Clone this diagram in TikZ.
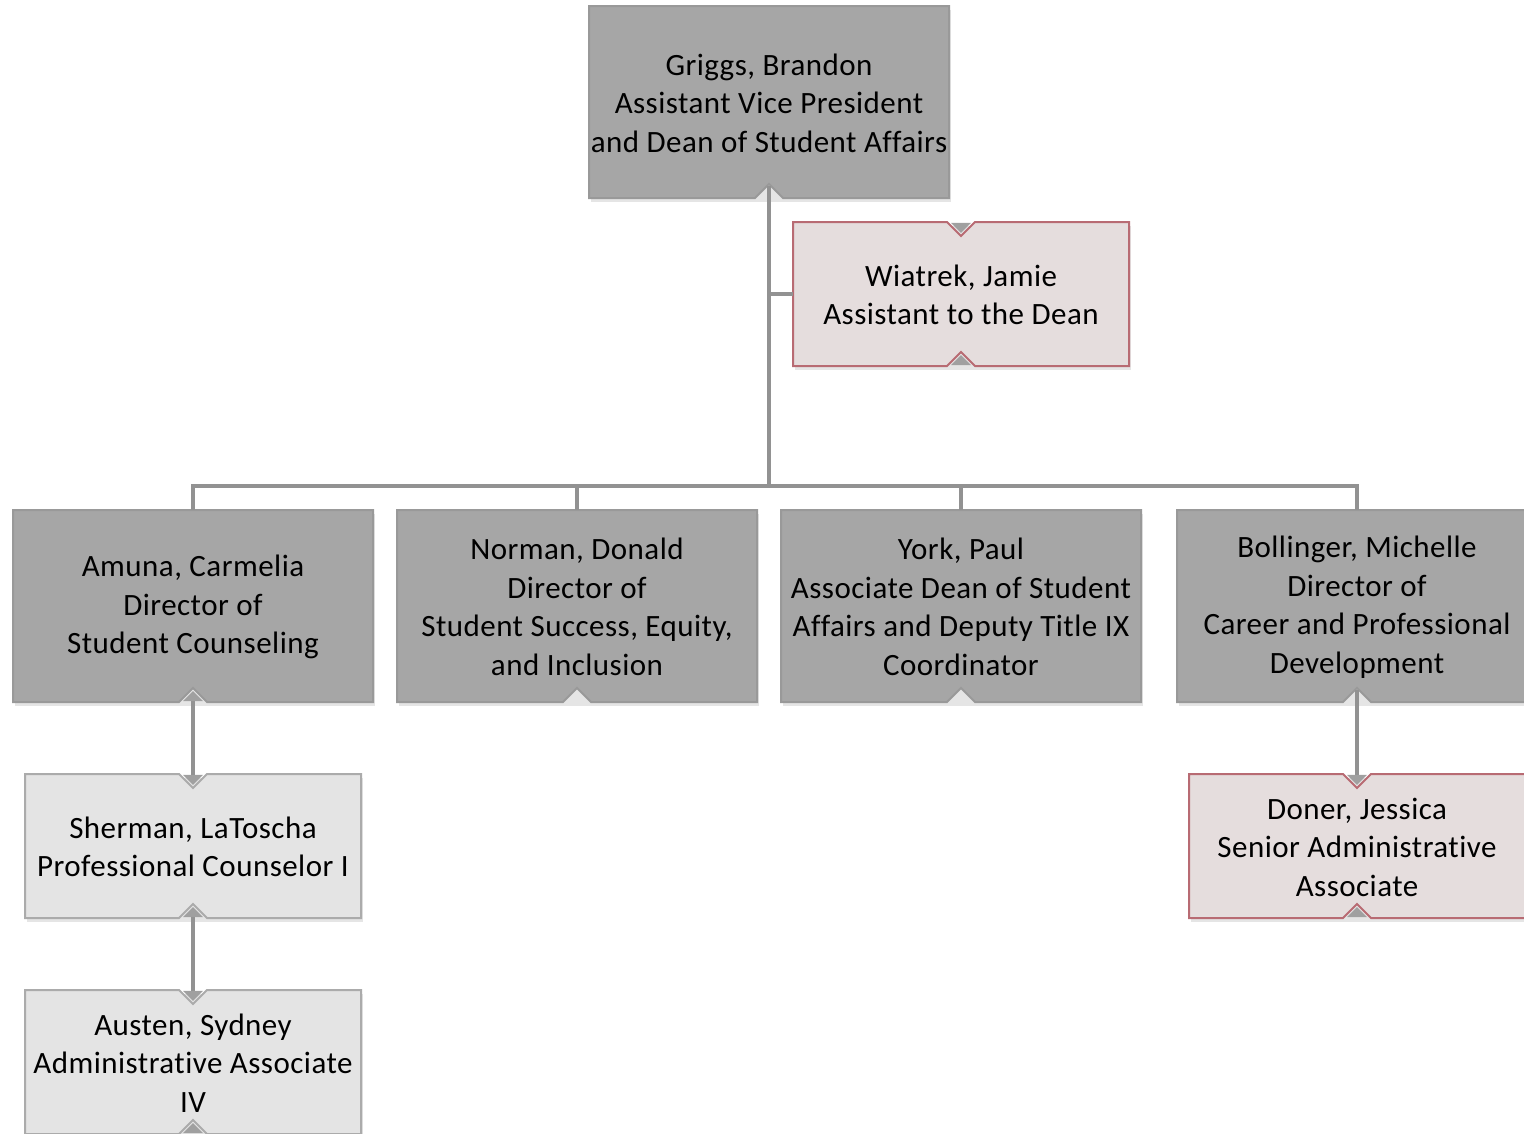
\documentclass[tikz,border=0pt]{standalone}
\usepackage{fontspec}
\setmainfont{Carlito}[LetterSpace=1.5,Ligatures={NoCommon}]
\usetikzlibrary{calc}
\definecolor{darkfill}{HTML}{A6A6A6}
\definecolor{darkline}{HTML}{999999}
\definecolor{pinkfill}{HTML}{E5DDDD}
\definecolor{pinkline}{HTML}{B86B73}
\definecolor{lightfill}{HTML}{E4E4E4}
\definecolor{lightline}{HTML}{ABABAB}
\definecolor{connc}{HTML}{929292}
\definecolor{tipc}{HTML}{A0A0A0}
\tikzset{
  darkbox/.style={fill=darkfill, draw=darkline, line width=2pt},
  pinkbox/.style={fill=pinkfill, draw=pinkline, line width=2pt},
  lightbox/.style={fill=lightfill, draw=lightline, line width=2pt},
  conn/.style={draw=connc, line width=4pt},
  tipfill/.style={fill=tipc},
  boxshadow/.style={fill=black, opacity=0.10},
  boxtext/.style={inner sep=0pt, align=center, font=\fontsize{31}{38.5}\selectfont, text=black},
}
% #1 name, #2 left, #3 top, #4 width, #5 height, #6 style, #7 top notch depth, #8 text
\newcommand\orgbox[8]{%
  \fill[boxshadow] ({#2+2},{#3+4}) rectangle ++(#4,#5);
  \path[#6] (#2,#3) -- ({#2+#4/2-14},#3) -- ({#2+#4/2},{#3+#7}) -- ({#2+#4/2+14},#3)
    -- ({#2+#4},#3) -- ({#2+#4},{#3+#5}) -- ({#2+#4/2+14},{#3+#5})
    -- ({#2+#4/2},{#3+#5-14}) -- ({#2+#4/2-14},{#3+#5}) -- (#2,{#3+#5}) -- cycle;
  \node[boxtext, minimum width=#4, minimum height=#5] (#1) at ({#2+#4/2},{#3+#5/2}) {};
  \node[boxtext] at ({#2+#4/2},{#3+#5/2+1}) {#8};
}
\newcommand\uptip[1]{\fill[tipfill] ($(#1.south)+(-10,-1)$) -- ($(#1.south)+(0,-11)$) -- ($(#1.south)+(10,-1)$) -- cycle;}
\newcommand\downtip[1]{\fill[tipfill] ($(#1.north)+(-10,1)$) -- ($(#1.north)+(0,11)$) -- ($(#1.north)+(10,1)$) -- cycle;}
\begin{document}
\begin{tikzpicture}[x=1pt,y=-1pt]
\useasboundingbox (0,0) rectangle (1524,1133);
\clip (0,0) rectangle (1524,1133);
\fill[white] (0,0) rectangle (1524,1133);

\orgbox{griggs}{589}{6}{360}{192}{darkbox}{0}{Griggs, Brandon\\Assistant Vice President\\and Dean of Student Affairs}
\orgbox{wiatrek}{793}{222}{336}{144}{pinkbox}{14}{Wiatrek, Jamie\\Assistant to the Dean}
\orgbox{amuna}{13}{510}{360}{192}{darkbox}{0}{Amuna, Carmelia\\Director of\\Student Counseling}
\orgbox{norman}{397}{510}{360}{192}{darkbox}{0}{Norman, Donald\\Director of\\Student Success, Equity,\\and Inclusion}
\orgbox{york}{781}{510}{360}{192}{darkbox}{0}{York, Paul\\Associate Dean of Student\\Affairs and Deputy Title IX\\Coordinator}
\orgbox{bollinger}{1177}{510}{360}{192}{darkbox}{0}{Bollinger, Michelle\\Director of\\Career and Professional\\Development}
\orgbox{sherman}{25}{774}{336}{144}{lightbox}{14}{Sherman, LaToscha\\Professional Counselor I}
\orgbox{austen}{25}{990}{336}{144}{lightbox}{14}{Austen, Sydney\\Administrative Associate\\IV}
\orgbox{doner}{1189}{774}{336}{144}{pinkbox}{14}{Doner, Jessica\\Senior Administrative\\Associate}

\coordinate (bus) at (769,486);
\draw[conn] ($(griggs.south)+(0,-12)$) -- (bus);
\draw[conn] (amuna.north) |- (bus) -| (bollinger.north);
\draw[conn] (norman.north) -- (norman.north |- bus);
\draw[conn] (york.north) -- (york.north |- bus);
\draw[conn] (wiatrek.west) -- (wiatrek.west -| bus);
\draw[conn] ($(amuna.south)+(0,-8)$) -- ($(sherman.north)+(0,8)$);
\draw[conn] ($(sherman.south)+(0,-8)$) -- ($(austen.north)+(0,8)$);
\draw[conn] ($(bollinger.south)+(0,-12)$) -- ($(doner.north)+(0,8)$);

\downtip{wiatrek}\uptip{wiatrek}
\uptip{amuna}
\downtip{sherman}\uptip{sherman}
\downtip{austen}\uptip{austen}
\downtip{doner}\uptip{doner}
\end{tikzpicture}
\end{document}
